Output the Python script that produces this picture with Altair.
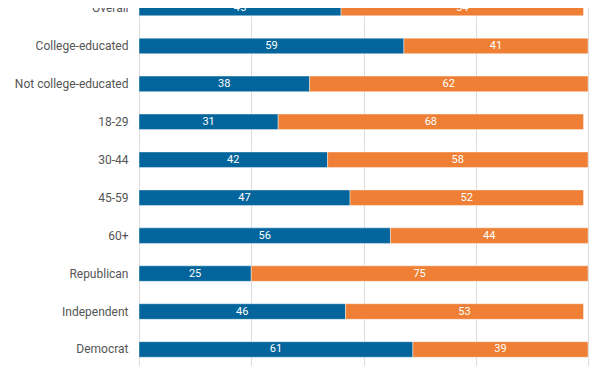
import altair as alt
import pandas as pd

groups = ["Overall", "College-educated", "Not college-educated", "18-29", "30-44",
          "45-59", "60+", "Republican", "Independent", "Democrat"]
first = [45, 59, 38, 31, 42, 47, 56, 25, 46, 61]
second = [54, 41, 62, 68, 58, 52, 44, 75, 53, 39]
series = ["First", "Second"]
colors = ["#03659b", "#ee7f35"]

rows = []
for g, a, b in zip(groups, first, second):
    rows.append({"group": g, "series": series[0], "value": a, "ord": 0})
    rows.append({"group": g, "series": series[1], "value": b, "ord": 1})
df = pd.DataFrame(rows)

yscale = alt.Scale(domain=groups, range=[-18.97, 360.43], paddingInner=0.59, paddingOuter=0.295)

base = alt.Chart(df).transform_stack(
    stack="value", groupby=["group"], as_=["x0", "x1"], sort=[alt.SortField("ord")]
).transform_calculate(mid="(datum.x0 + datum.x1) / 2")

bars = base.mark_bar(clip=True, stroke="white", strokeWidth=0.6, strokeOpacity=0.7).encode(
    x=alt.X("x0:Q", scale=alt.Scale(domain=[0, 100], nice=False),
            axis=alt.Axis(values=[0, 25, 50, 75, 100], labels=False, ticks=False,
                          domain=False, grid=True, gridColor="#dcdcdc", gridWidth=1, title=None)),
    x2="x1:Q",
    y=alt.Y("group:N", scale=yscale, sort=groups,
            axis=alt.Axis(title=None, ticks=False, domain=False, grid=False, labelPadding=11,
                          labelFont="Roboto", labelFontSize=12, labelColor="#555555")),
    color=alt.Color("series:N", scale=alt.Scale(domain=series, range=colors), legend=None),
)

texts = base.mark_text(clip=True, color="white", font="Roboto", fontSize=11, baseline="middle").encode(
    x=alt.X("mid:Q"),
    y=alt.Y("group:N", scale=yscale, sort=groups),
    text=alt.Text("value:Q"),
)

chart = alt.layer(bars, texts).properties(
    width=449, height=358,
    autosize=alt.AutoSizeParams(type="none"),
    padding={"left": 131, "top": 0, "right": 16, "bottom": 0},
).configure_view(stroke=None)

chart.save("out.html", embed_options={"renderer": "svg", "actions": False})
